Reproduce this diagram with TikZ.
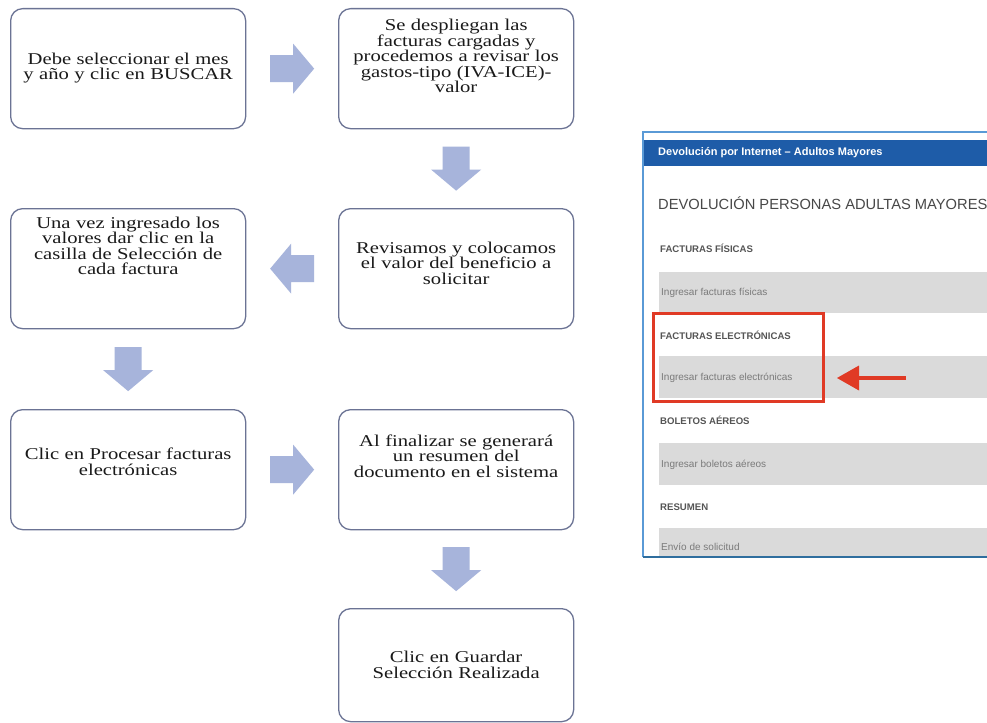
\documentclass[tikz,border=0pt]{standalone}
\usepackage{fontspec}
\setmainfont{Liberation Serif}[FakeStretch=1.25]
\newfontfamily\uisans{Liberation Sans}
\usetikzlibrary{calc}
\definecolor{boxline}{HTML}{6B7394}
\definecolor{arrowfill}{HTML}{A7B4DB}
\definecolor{txt}{HTML}{1A1A1A}
\definecolor{hdrblue}{HTML}{1E5CA8}
\definecolor{frameblue}{HTML}{5A9AD6}
\definecolor{framedark}{HTML}{2F6E9E}
\definecolor{rowgray}{HTML}{DADADA}
\definecolor{labelgray}{HTML}{555555}
\definecolor{titlegray}{HTML}{484848}
\definecolor{rowtext}{HTML}{7A7A7A}
\definecolor{redmark}{HTML}{E03A25}
\newcommand\blockarr[2]{\fill[arrowfill,shift={#1},rotate=#2] (-22,13.5) -- (1,13.5) -- (1,25) -- (22,0) -- (1,-25) -- (1,-13.5) -- (-22,-13.5) -- cycle;}
\begin{document}
\begin{tikzpicture}[x=1bp,y=-1bp,
  stepbox/.style={draw=boxline, line width=1.3bp, rounded corners=12bp, fill=white,
    minimum width=235bp, minimum height=120bp, inner sep=0pt, anchor=north west},
  flowtext/.style={text width=228bp, align=center, inner sep=0pt,
    font=\fontsize{16.5bp}{15.5bp}\selectfont, text=txt},
  seclabel/.style={anchor=west, inner sep=0pt, text=labelgray, font=\uisans\bfseries\fontsize{9.6bp}{11bp}\selectfont},
  rowlabel/.style={anchor=west, inner sep=0pt, text=rowtext, font=\uisans\fontsize{10bp}{11bp}\selectfont}]
\useasboundingbox (0,0) rectangle (987,723);
\fill[white] (0,0) rectangle (987,723);

% flow boxes
\node[stepbox] (b1) at (10,8) {};
\node[stepbox] (b2) at (338,8) {};
\node[stepbox] (b3) at (10,208) {};
\node[stepbox] (b4) at (338,208) {};
\node[stepbox] (b5) at (10,409) {};
\node[stepbox] (b6) at (338,409) {};
\node[stepbox, minimum height=113bp] (b7) at (338,608) {};

\node[flowtext] (t1) at ($(b1.north)+(0,60)$) {Debe seleccionar el mes\\y año y clic en BUSCAR};
\node[flowtext] (t2) at ($(b2.north)+(0,48)$) {Se despliegan las\\facturas cargadas y\\procedemos a revisar los\\gastos-tipo (IVA-ICE)-\\valor};
\node[flowtext] (t3) at ($(b3.north)+(0,38)$) {Una vez ingresado los\\valores dar clic en la\\casilla de Selección de\\cada factura};
\node[flowtext] (t4) at ($(b4.north)+(0,55)$) {Revisamos y colocamos\\el valor del beneficio a\\solicitar};
\node[flowtext] (t5) at ($(b5.north)+(0,53)$) {Clic en Procesar facturas\\electrónicas};
\node[flowtext] (t6) at ($(b6.north)+(0,47)$) {Al finalizar se generará\\un resumen del\\documento en el sistema};
\node[flowtext] (t7) at ($(b7.north)+(0,57)$) {Clic en Guardar\\Selección Realizada};

% block arrows
\blockarr{($(b1.east)!0.5!(b2.west)$)}{0}
\blockarr{($(b2.south)!0.5!(b4.north)$)}{-90}
\blockarr{($(b4.west)!0.5!(b3.east)$)}{180}
\blockarr{($(b3.south)!0.5!(b5.north)$)}{-90}
\blockarr{($(b5.east)!0.5!(b6.west)$)}{0}
\blockarr{($(b6.south)!0.5!(b7.north)$)}{-90}

% screenshot
\begin{scope}
\clip (0,0) rectangle (987,723);
\fill[white] (643,132) rectangle (1000,557);
\fill[hdrblue] (643,140) rectangle (1000,166);
\node[anchor=west, inner sep=0pt, text=white, font=\uisans\bfseries\fontsize{11bp}{12bp}\selectfont] (hdr) at (658,153) {Devolución por Internet – Adultos Mayores};
\node[anchor=west, inner sep=0pt, text=titlegray, font=\uisans\fontsize{14.7bp}{16bp}\selectfont] (ttl) at (658,203) {DEVOLUCIÓN PERSONAS ADULTAS MAYORES};
\node[seclabel] (s1) at (660,248) {FACTURAS FÍSICAS};
\fill[rowgray] (659,272) rectangle (1000,313);
\node[rowlabel] (r1) at (661,293) {Ingresar facturas físicas};
\node[seclabel] (s2) at (660,335) {FACTURAS ELECTRÓNICAS};
\fill[rowgray] (659,356) rectangle (1000,398);
\node[rowlabel] (r2) at (661,378) {Ingresar facturas electrónicas};
\node[seclabel] (s3) at (660,420) {BOLETOS AÉREOS};
\fill[rowgray] (659,443) rectangle (1000,485);
\node[rowlabel] (r3) at (661,465) {Ingresar boletos aéreos};
\node[seclabel] (s4) at (660,507) {RESUMEN};
\fill[rowgray] (659,528) rectangle (1000,556);
\node[rowlabel] (r4) at (661,547) {Envío de solicitud};
\draw[frameblue, line width=2bp] (1000,132) -- (643,132) -- (643,557);
\draw[framedark, line width=2bp] (643,557) -- (1000,557);
% highlight
\draw[redmark, line width=3bp] (653,313) rectangle (823,401);
\coordinate (redtail) at (906,378);
\coordinate (redtip) at (837,378);
\draw[redmark, line width=4bp] (redtail) -- ($(redtip)+(18,0)$);
\fill[redmark] (redtip) -- ++(22,-12.5) -- ++(0,25) -- cycle;
\end{scope}
\end{tikzpicture}
\end{document}
